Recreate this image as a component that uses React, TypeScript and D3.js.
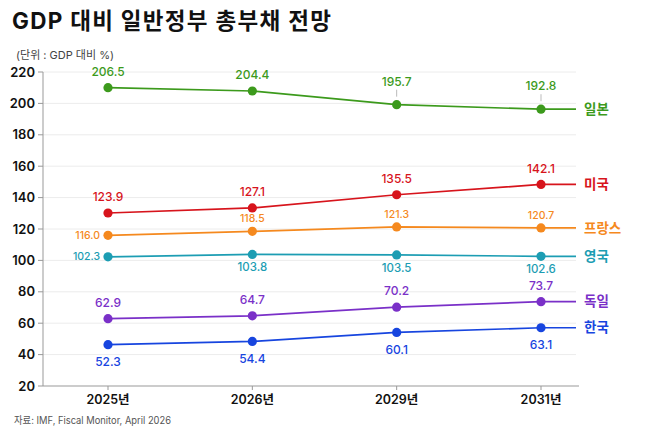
import { useRef, useEffect } from "react";
import { select, scaleLinear, scalePoint, line } from "d3";

// 연도 (x축)
const years = ["2025년", "2026년", "2029년", "2031년"];

// 국가별 GDP 대비 일반정부 총부채 (%)
const japan = [206.5, 204.4, 195.7, 192.8];
const usa = [123.9, 127.1, 135.5, 142.1];
const france = [116.0, 118.5, 121.3, 120.7];
const uk = [102.3, 103.8, 103.5, 102.6];
const germany = [62.9, 64.7, 70.2, 73.7];
const korea = [52.3, 54.4, 60.1, 63.1];

const yTicks = [20, 40, 60, 80, 100, 120, 140, 160, 180, 200, 220];

type Place = "above" | "below" | "left" | "leader";

// nudge: the original spreads some lines apart a little so labels don't collide
const series = [
  { name: "일본", values: japan, color: "#3c9a1c", nudge: 3.5, gap: 16, size: 12, place: ["above", "above", "leader", "leader"] as Place[] },
  { name: "미국", values: usa, color: "#d7141c", nudge: 6.3, gap: 16, size: 12, place: ["above", "above", "above", "above"] as Place[] },
  { name: "프랑스", values: france, color: "#f5891e", nudge: 0, gap: 13, size: 10.5, place: ["left", "above", "above", "above"] as Place[] },
  { name: "영국", values: uk, color: "#1c9db3", nudge: 0, gap: 13, size: 11.5, place: ["left", "below", "below", "below"] as Place[] },
  { name: "독일", values: germany, color: "#7a30c8", nudge: 0, gap: 16, size: 12, place: ["above", "above", "above", "above"] as Place[] },
  { name: "한국", values: korea, color: "#1745df", nudge: -6, gap: 17, size: 12, place: ["below", "below", "below", "below"] as Place[] },
];

const W = 650;
const H = 433;
const FONT = "Inter, 'Noto Sans CJK KR', sans-serif";

const App: React.FC = () => {
  const ref = useRef<HTMLDivElement>(null);

  useEffect(() => {
    if (!ref.current) return;
    document.body.style.margin = "0";

    const plot = { left: 43, right: 579, gridEnd: 576, top: 72, bottom: 386 };

    const x = scalePoint<string>().domain(years).range([108, 541]);
    const y = scaleLinear().domain([20, 220]).range([plot.bottom, plot.top]);

    const root = select(ref.current);
    root.selectAll("*").remove();

    const svg = root
      .append("svg")
      .attr("width", W)
      .attr("height", H)
      .attr("viewBox", `0 0 ${W} ${H}`)
      .style("display", "block")
      .style("background", "#fff")
      .style("font-family", FONT);

    // 제목
    svg
      .append("text")
      .attr("x", 12)
      .attr("y", 29)
      .attr("font-size", 22.5)
      .attr("font-weight", 700)
      .attr("letter-spacing", 1.3)
      .attr("fill", "#111")
      .text("GDP 대비 일반정부 총부채 전망");

    svg
      .append("text")
      .attr("x", 16)
      .attr("y", 59)
      .attr("font-size", 11)
      .attr("fill", "#444")
      .text("(단위 : GDP 대비 %)");

    // 격자선
    svg
      .append("g")
      .selectAll("line")
      .data(yTicks.filter((t) => t > 20))
      .enter()
      .append("line")
      .attr("x1", plot.left)
      .attr("x2", plot.gridEnd)
      .attr("y1", (d) => y(d))
      .attr("y2", (d) => y(d))
      .attr("stroke", "#ececec")
      .attr("stroke-width", 1);

    // y축
    const yAxis = svg.append("g");
    yAxis
      .append("line")
      .attr("x1", plot.left)
      .attr("x2", plot.left)
      .attr("y1", plot.top)
      .attr("y2", plot.bottom)
      .attr("stroke", "#999");
    yAxis
      .selectAll("line.tick")
      .data(yTicks)
      .enter()
      .append("line")
      .classed("tick", true)
      .attr("x1", plot.left - 5)
      .attr("x2", plot.left)
      .attr("y1", (d) => y(d))
      .attr("y2", (d) => y(d))
      .attr("stroke", "#999");
    yAxis
      .selectAll("text")
      .data(yTicks)
      .enter()
      .append("text")
      .attr("x", 35)
      .attr("y", (d) => y(d))
      .attr("dy", "0.35em")
      .attr("text-anchor", "end")
      .attr("font-size", 13)
      .attr("font-weight", 600)
      .attr("fill", "#111")
      .text((d) => d);

    // x축
    const xAxis = svg.append("g");
    xAxis
      .append("line")
      .attr("x1", plot.left)
      .attr("x2", plot.right)
      .attr("y1", plot.bottom)
      .attr("y2", plot.bottom)
      .attr("stroke", "#999");
    xAxis
      .selectAll("line.tick")
      .data(years)
      .enter()
      .append("line")
      .classed("tick", true)
      .attr("x1", (d) => x(d)!)
      .attr("x2", (d) => x(d)!)
      .attr("y1", plot.bottom)
      .attr("y2", plot.bottom + 4)
      .attr("stroke", "#999");
    xAxis
      .selectAll("text")
      .data(years)
      .enter()
      .append("text")
      .attr("x", (d) => x(d)!)
      .attr("y", 400)
      .attr("dy", "0.35em")
      .attr("text-anchor", "middle")
      .attr("font-size", 12.5)
      .attr("font-weight", 600)
      .attr("fill", "#111")
      .text((d) => d);

    // 선, 점, 라벨
    series.forEach((s) => {
      const g = svg.append("g");
      const yy = (v: number) => y(v + s.nudge);
      const pts: [number, number][] = s.values.map((v, i) => [x(years[i])!, yy(v)]);
      const last = s.values[s.values.length - 1];
      pts.push([plot.gridEnd, yy(last)]);

      g.append("path")
        .attr("d", line()(pts) ?? "")
        .attr("fill", "none")
        .attr("stroke", s.color)
        .attr("stroke-width", 1.7);

      g.selectAll("circle")
        .data(s.values)
        .enter()
        .append("circle")
        .attr("cx", (_d, i) => x(years[i])!)
        .attr("cy", (d) => yy(d))
        .attr("r", 4.6)
        .attr("fill", s.color);

      s.values.forEach((v, i) => {
        const px = x(years[i])!;
        const py = yy(v);
        const p = s.place[i];
        let tx = px;
        let ty = py;
        let anchor = "middle";
        if (p === "above") ty = py - s.gap;
        else if (p === "below") ty = py + s.gap;
        else if (p === "left") {
          tx = px - 8;
          anchor = "end";
        } else {
          ty = py - s.gap - 7;
          g.append("line")
            .attr("x1", px)
            .attr("x2", px)
            .attr("y1", py - 15)
            .attr("y2", py - 8)
            .attr("stroke", "#bbb")
            .attr("stroke-width", 1);
        }
        g.append("text")
          .attr("x", tx)
          .attr("y", ty)
          .attr("dy", "0.35em")
          .attr("text-anchor", anchor)
          .attr("font-size", p === "left" ? 10.5 : s.size)
          .attr("font-weight", 500)
          .attr("fill", s.color)
          .text(v.toFixed(1));
      });

      g.append("text")
        .attr("x", 584)
        .attr("y", yy(last))
        .attr("dy", "0.35em")
        .attr("font-size", 13.5)
        .attr("font-weight", 700)
        .attr("fill", s.color)
        .text(s.name);
    });

    // 출처
    svg
      .append("text")
      .attr("x", 14)
      .attr("y", 424)
      .attr("font-size", 10)
      .attr("fill", "#555")
      .attr("textLength", 157)
      .attr("lengthAdjust", "spacingAndGlyphs")
      .text("자료: IMF, Fiscal Monitor, April 2026");

    return () => {
      root.selectAll("*").remove();
    };
  }, []);

  return <div ref={ref} />;
};

export default App;
